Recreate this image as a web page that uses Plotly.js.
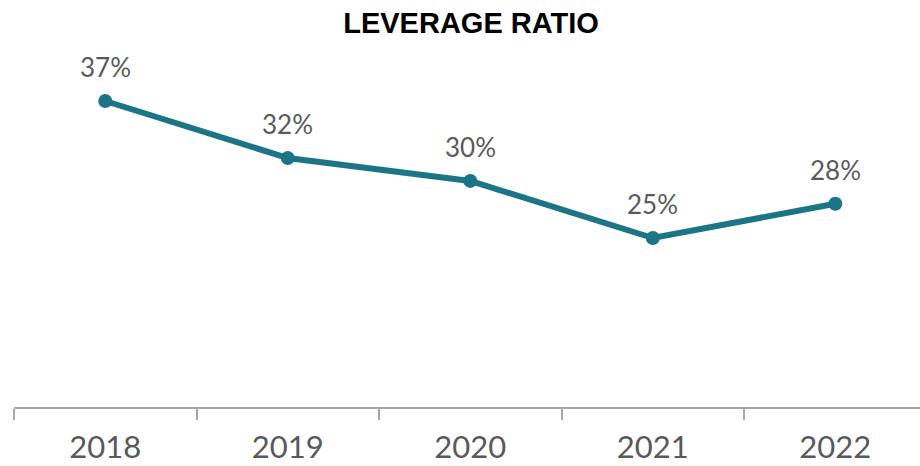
<!DOCTYPE html>
<html><head><meta charset="utf-8">
<script src="https://cdn.plot.ly/plotly-3.0.1.min.js"></script>
<style>html,body{margin:0;padding:0;background:#fff;}#chart{width:920px;height:466px;}</style>
</head><body><div id="chart"></div>
<script>
const years = ['2018', '2019', '2020', '2021', '2022'];
const leverage = [37, 32, 30, 25, 28];
const labels = ['37%', '32%', '30%', '25%', '28%'];

const trace = {
  x: years, y: leverage,
  type: 'scatter', mode: 'lines+markers',
  line: {color: '#1b7586', width: 6},
  marker: {color: '#1b7586', size: 14},
  cliponaxis: false, hoverinfo: 'none'
};
const annotations = years.map((yr, i) => ({
  x: i, y: leverage[i], xref: 'x', yref: 'y',
  text: labels[i], showarrow: false,
  xanchor: 'center', yanchor: 'bottom', yshift: 16,
  font: {family: 'Lato', size: 26, color: '#5a5a5a'}
}));
const layout = {
  width: 920, height: 466,
  margin: {l: 14, r: 0, t: 60, b: 59},
  paper_bgcolor: '#fff', plot_bgcolor: '#fff',
  showlegend: false,
  annotations: annotations,
  title: {text: '<b>LEVERAGE RATIO</b>', font: {family: 'Liberation Sans, Arial', size: 29, color: '#000'}, x: 0.512, xanchor: 'center', y: 0.95, yanchor: 'middle', yref: 'container'},
  xaxis: {
    type: 'category', range: [-0.5, 4.464],
    showgrid: false, zeroline: false,
    showline: true, linecolor: '#a6a6a6', linewidth: 2,
    ticks: 'outside', tickson: 'boundaries', ticklen: 11, tickwidth: 2, tickcolor: '#a6a6a6',
    ticklabelstandoff: 12,
    tickfont: {family: 'Lato', size: 31, color: '#595959'},
    fixedrange: true
  },
  yaxis: {range: [10.2, 40.59], visible: false, fixedrange: true}
};
Plotly.newPlot('chart', [trace], layout, {displayModeBar: false, staticPlot: true});
</script></body></html>
